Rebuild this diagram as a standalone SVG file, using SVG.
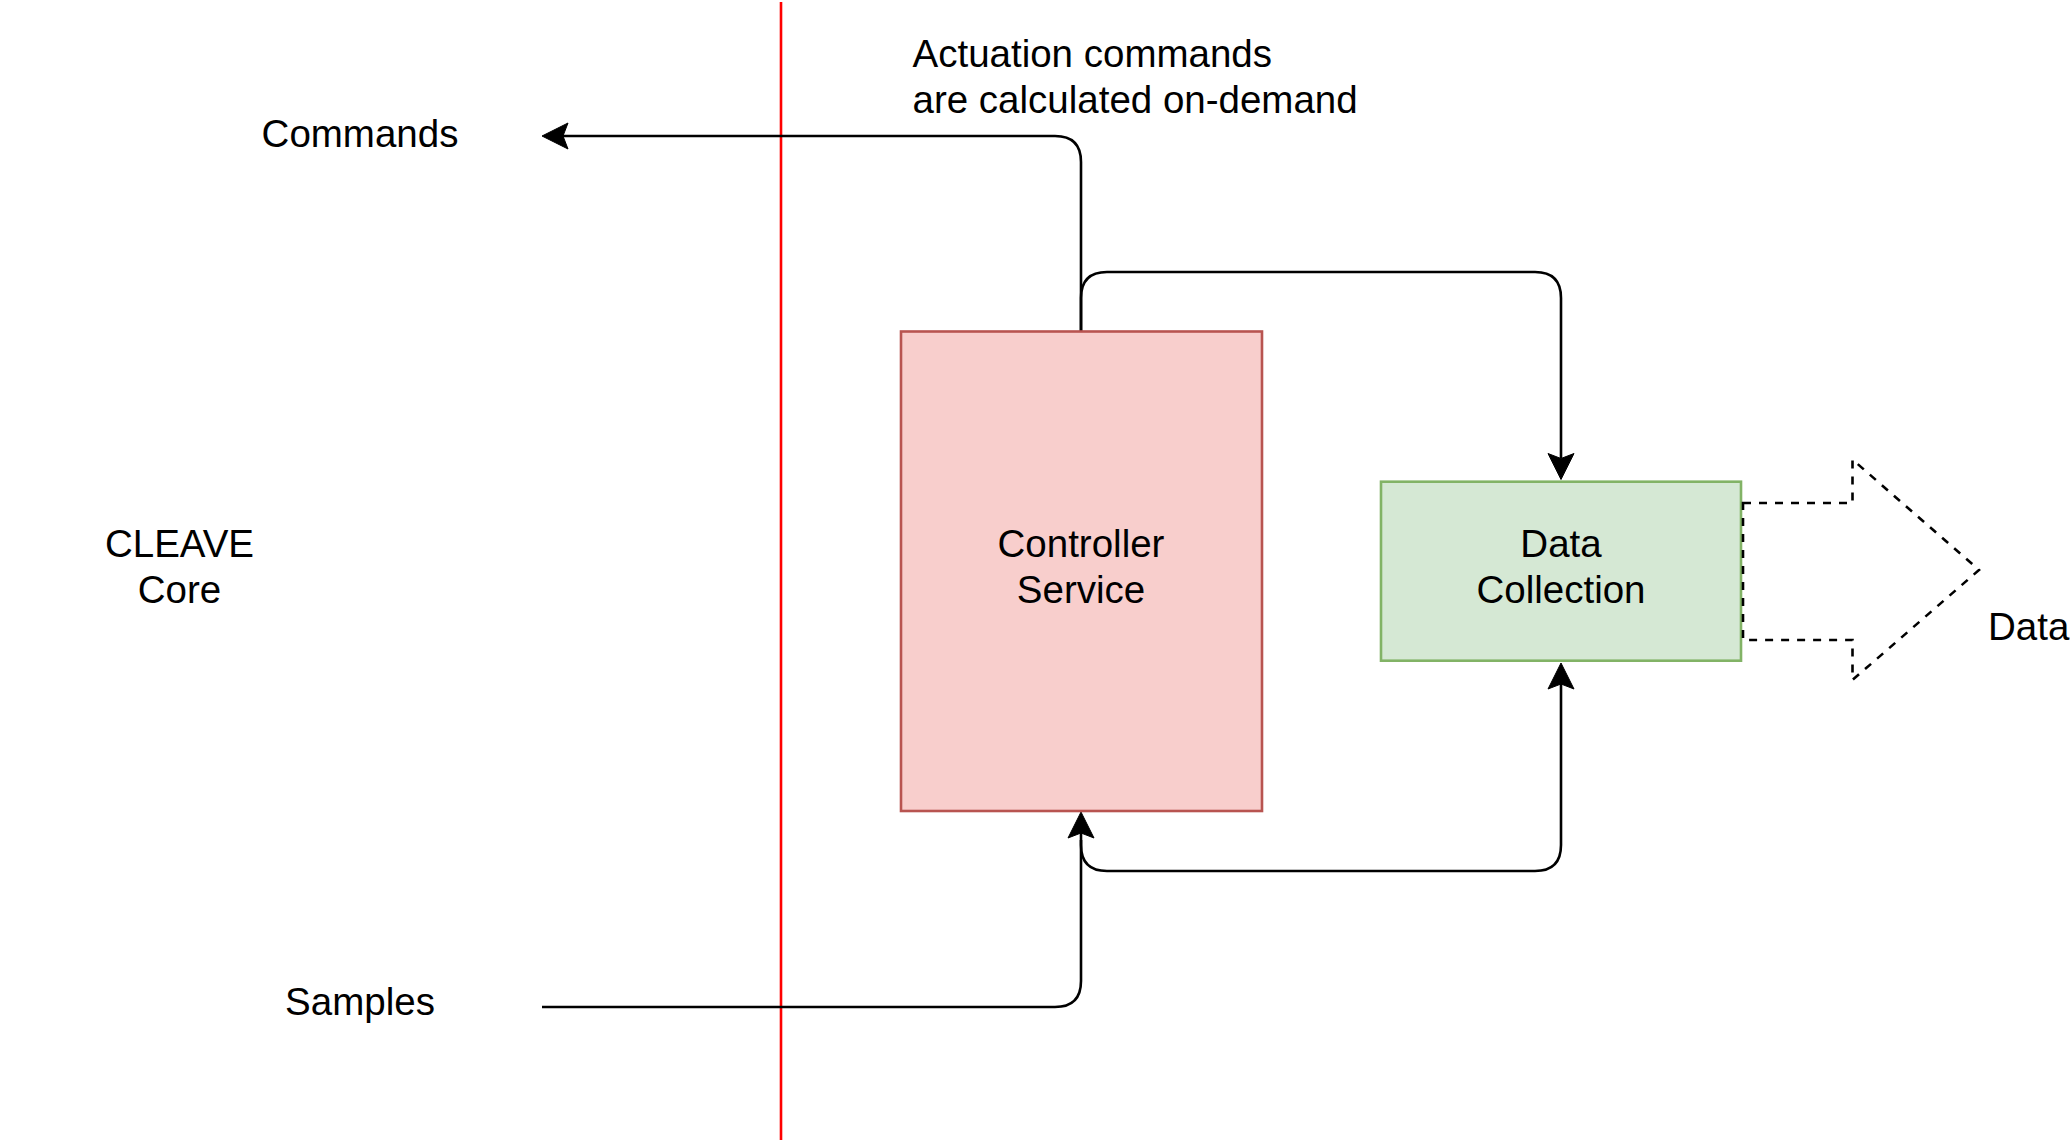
<svg xmlns="http://www.w3.org/2000/svg" width="2070" height="1146" viewBox="0 0 2070 1146">
  <style>
    .lbl { font-family: "Liberation Sans", Arial, Helvetica, sans-serif; font-size: 38.5px; fill: #000000; }
    .mid { text-anchor: middle; }
    .edge { fill: none; stroke: #000000; stroke-width: 2.6; stroke-linejoin: round; }
  </style>
  <defs>
    <marker id="arr" markerUnits="userSpaceOnUse" markerWidth="30" markerHeight="30" viewBox="-2 -15 30 30" refX="5" refY="0" orient="auto">
      <path d="M0,-13 L26,0 L0,13 L5,0 Z" fill="#000000" stroke="#000000" stroke-width="1"/>
    </marker>
  </defs>
  <rect x="0" y="0" width="2070" height="1146" fill="#ffffff"/>

  <g id="divider">
    <line x1="781" y1="2" x2="781" y2="1140" stroke="#ff0000" stroke-width="2.6"/>
  </g>

  <g id="connectors">
    <path class="edge" d="M1081,331 V162 Q1081,136 1055,136 H563" marker-end="url(#arr)"/>
    <path class="edge" d="M1081,331 V298 Q1081,272 1107,272 H1535 Q1561,272 1561,298 V458.5" marker-end="url(#arr)"/>
    <path class="edge" d="M542,1007 H1055 Q1081,1007 1081,981 V833" marker-end="url(#arr)"/>
    <path class="edge" d="M1081,840 V845 Q1081,871 1107,871 H1535 Q1561,871 1561,845 V684" marker-end="url(#arr)"/>
  </g>

  <g id="cleave-core">
    <text class="lbl mid" x="179.5" y="556.7">CLEAVE</text>
    <text class="lbl mid" x="179.5" y="603.3">Core</text>
  </g>

  <g id="commands">
    <text class="lbl mid" x="360" y="146.7">Commands</text>
  </g>

  <g id="samples">
    <text class="lbl mid" x="360" y="1015">Samples</text>
  </g>

  <g id="note">
    <text class="lbl" x="912.5" y="66.5">Actuation commands</text>
    <text class="lbl" x="912.5" y="113">are calculated on-demand</text>
  </g>

  <g id="controller-service">
    <rect x="901" y="331.5" width="361" height="479.5" fill="#f8cecc" stroke="#b85450" stroke-width="2.6"/>
    <text class="lbl mid" x="1081" y="556.7">Controller</text>
    <text class="lbl mid" x="1081" y="603.3">Service</text>
  </g>

  <g id="data-collection">
    <rect x="1381" y="481.7" width="360" height="179" fill="#d5e8d4" stroke="#82b366" stroke-width="2.6"/>
    <text class="lbl mid" x="1561" y="556.7">Data</text>
    <text class="lbl mid" x="1561" y="603.3">Collection</text>
  </g>

  <g id="data-arrow">
    <path d="M1743,503 H1852.5 V459.5 L1979,570 L1852.5,680 V640 H1743 Z" fill="none" stroke="#000000" stroke-width="2.6" stroke-dasharray="8 8" stroke-linejoin="miter"/>
    <text class="lbl" x="1988" y="640">Data</text>
  </g>
</svg>
